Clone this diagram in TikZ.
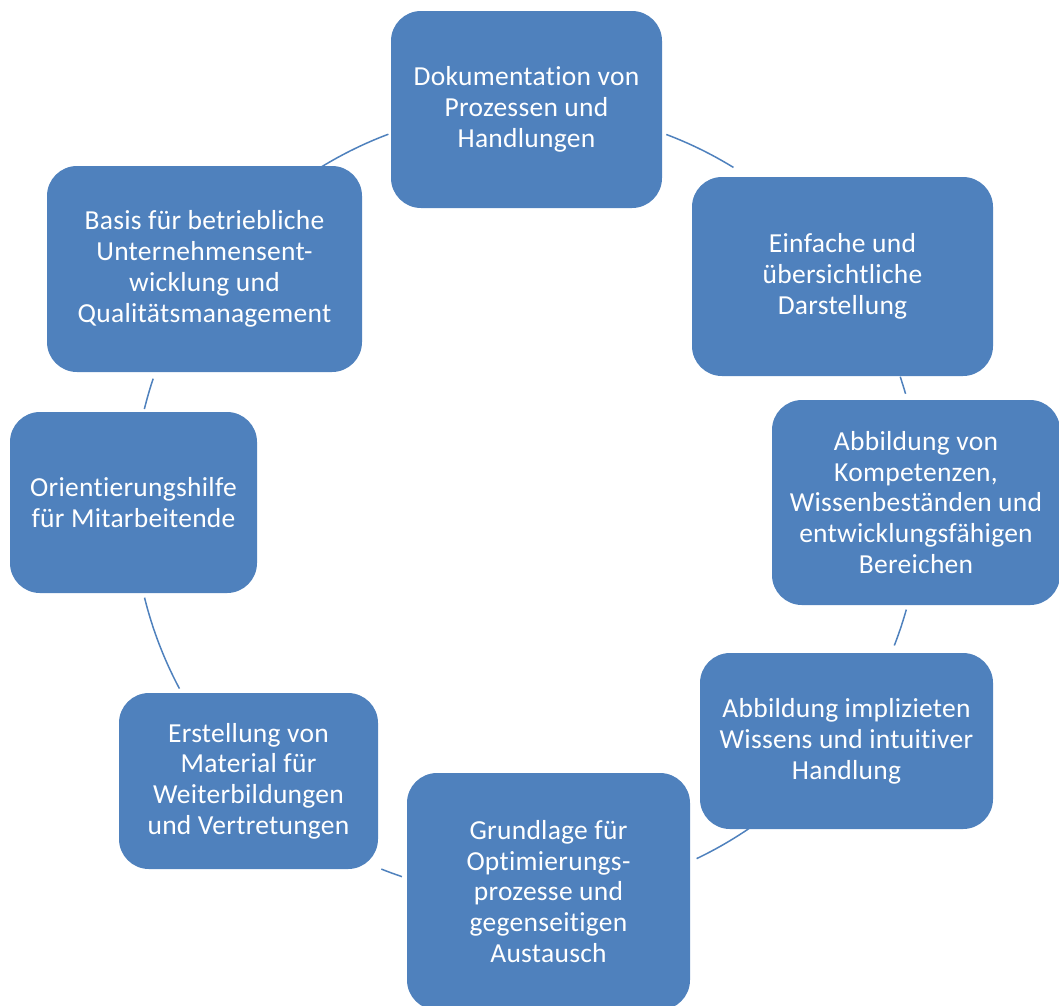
\documentclass[tikz,border=0pt]{standalone}
\usepackage{fontspec}
\setmainfont{Carlito}[Ligatures=NoCommon, LetterSpace=1]
\definecolor{boxblue}{RGB}{79,129,189}
\tikzset{
  stepbox/.style={fill=boxblue, rounded corners=30pt, text=white, align=center,
    inner sep=0pt, font=\fontsize{27.5}{30.8}\selectfont},
  ring/.style={draw=boxblue, line width=1.5pt}
}
\begin{document}
\begin{tikzpicture}[x=1pt,y=1pt]
  \useasboundingbox (0,0) rectangle (1059,-1005);
  \node[stepbox, minimum width=271pt, minimum height=197pt] (doku) at (526.5,-109.5)
    {Dokumentation von\\Prozessen und\\Handlungen};
  \node[stepbox, minimum width=301pt, minimum height=199pt] (einfach) at (842.5,-276.5)
    {Einfache und\\übersichtliche\\Darstellung};
  \node[stepbox, minimum width=288pt, minimum height=205pt] (kompetenz) at (916,-502.5)
    {Abbildung von\\Kompetenzen,\\Wissenbeständen und\\entwicklungsfähigen\\Bereichen};
  \node[stepbox, minimum width=293pt, minimum height=176pt] (implizit) at (846.5,-741)
    {Abbildung implizieten\\Wissens und intuitiver\\Handlung};
  \node[stepbox, minimum width=283pt, minimum height=237pt] (grundlage) at (548.5,-891.5)
    {Grundlage für\\Optimierungs-\\prozesse und\\gegenseitigen\\Austausch};
  \node[stepbox, minimum width=259pt, minimum height=176pt] (material) at (248.5,-781)
    {Erstellung von\\Material für\\Weiterbildungen\\und Vertretungen};
  \node[stepbox, minimum width=247pt, minimum height=181pt] (orient) at (133.5,-502.5)
    {Orientierungshilfe\\für Mitarbeitende};
  \node[stepbox, minimum width=315pt, minimum height=206pt] (basis) at (204.5,-269)
    {Basis für betriebliche\\Unternehmensent-\\wicklung und\\Qualitätsmanagement};
  \coordinate (ctr) at (527,-503);
  \draw[ring] (ctr) ++(121.5:394) coordinate (basisdoku) arc[start angle=121.5, end angle=110.6, radius=394];
  \draw[ring] (ctr) ++(69.3:394) coordinate (dokueinfach) arc[start angle=69.3, end angle=58.4, radius=394];
  \draw[ring] (ctr) ++(18.7:394) coordinate (einfachkomp) arc[start angle=18.7, end angle=16.1, radius=394];
  \draw[ring] (ctr) ++(-15.7:394) coordinate (kompimpl) arc[start angle=-15.7, end angle=-21.2, radius=394];
  \draw[ring] (ctr) ++(-55.6:394) coordinate (implgrund) arc[start angle=-55.6, end angle=-64.5, radius=394];
  \draw[ring] (ctr) ++(-108.5:394) coordinate (grundmat) arc[start angle=-108.5, end angle=-111.7, radius=394];
  \draw[ring] (ctr) ++(208.1:394) coordinate (matorient) arc[start angle=208.1, end angle=193.9, radius=394];
  \draw[ring] (ctr) ++(166.2:394) coordinate (orientbasis) arc[start angle=166.2, end angle=161.6, radius=394];
\end{tikzpicture}
\end{document}
